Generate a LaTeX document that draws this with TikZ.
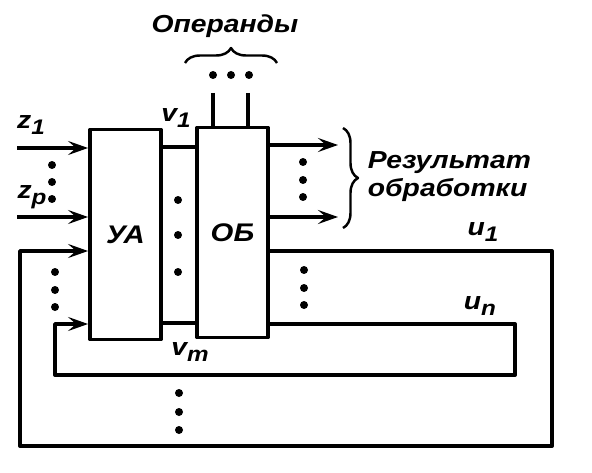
\documentclass[tikz,border=0pt]{standalone}
\usepackage{fontspec}
\newfontfamily\gostfont[FakeStretch=1.15]{Liberation Sans}
\usetikzlibrary{arrows.meta, decorations.pathreplacing}
\newcommand{\lowidx}[2]{#1\raisebox{-0.5ex}{\fontsize{12}{12}\selectfont #2}}

\begin{document}
\begin{tikzpicture}[x=0.02cm, y=-0.02cm, line width=2.2pt, line join=round,
    >={Stealth[length=4mm, width=2.8mm, inset=1.6mm]},
    lbl/.style={font=\gostfont\bfseries\itshape\fontsize{14}{16}\selectfont, inner sep=0pt},
    blk/.style={draw, minimum width=1.42cm, minimum height=4.2cm, inner sep=0pt,
        font=\gostfont\bfseries\itshape\fontsize{14.5}{14.5}\selectfont},
    brc/.style={decorate, line width=1.4pt, decoration={brace, amplitude=0.3cm}}]
    \useasboundingbox (0,0) rectangle (592,473);

    % блоки
    \node[blk] (ua) at (125.5,234.5) {УА};
    \node[blk] (ob) at (232.5,232.5) {ОБ};

    % входы z
    \coordinate (z1) at (17,148);
    \coordinate (zp) at (17,217);
    \draw[->] (z1) -- (z1 -| ua.west);
    \draw[->] (zp) -- (zp -| ua.west);
    \node[lbl] (lz1) at (31,125) {\lowidx{z}{1}};
    \node[lbl] (lzp) at (32,197) {\lowidx{z}{p}};

    % связи v между блоками
    \coordinate (v1) at (180,147);
    \coordinate (vm) at (180,323);
    \draw (v1 -| ua.east) -- (v1 -| ob.west);
    \draw (vm -| ua.east) -- (vm -| ob.west);
    \node[lbl] (lv1) at (176,118) {\lowidx{v}{1}};
    \node[lbl] (lvm) at (190,352) {\lowidx{v}{m}};

    % операнды
    \coordinate (op1) at (213,93);
    \coordinate (op2) at (248,93);
    \draw (op1) -- (op1 |- ob.north);
    \draw (op2) -- (op2 |- ob.north);
    \draw[brc] (185,63) -- (277,63);
    \node[lbl] (lop) at (225,26) {Операнды};

    % результаты
    \coordinate (r1) at (338,145);
    \coordinate (r2) at (338,217);
    \draw[->] (r1 -| ob.east) -- (r1);
    \draw[->] (r2 -| ob.east) -- (r2);
    \draw[brc] (343,128) -- (343,228);
    \node[lbl, anchor=west, align=left] (lres) at (366,177) {Результат\\обработки};

    % обратная связь u1
    \coordinate (u1r) at (552,251);
    \coordinate (u1l) at (20,446);
    \draw[->] (u1r -| ob.east) -- (u1r) |- (u1l) |- (ua.west |- u1r);
    \node[lbl] (lu1) at (483,232) {\lowidx{u}{1}};

    % обратная связь un
    \coordinate (unr) at (515,324);
    \coordinate (unl) at (55,375);
    \draw[->] (unr -| ob.east) -- (unr) |- (unl) |- (ua.west |- unr);
    \node[lbl] (lun) at (480,306) {\lowidx{u}{n}};

    % точки
    \foreach \y in {165,182,199} \fill (52,\y) circle[radius=0.08cm];
    \foreach \y in {272,290,307} \fill (55,\y) circle[radius=0.08cm];
    \foreach \y in {200,235,272} \fill (178,\y) circle[radius=0.08cm];
    \foreach \x in {213,231,249} \fill (\x,75) circle[radius=0.08cm];
    \foreach \y in {162,180,197} \fill (303,\y) circle[radius=0.08cm];
    \foreach \y in {270,288,305} \fill (304,\y) circle[radius=0.08cm];
    \foreach \y in {393,412,430} \fill (179,\y) circle[radius=0.08cm];
\end{tikzpicture}
\end{document}
